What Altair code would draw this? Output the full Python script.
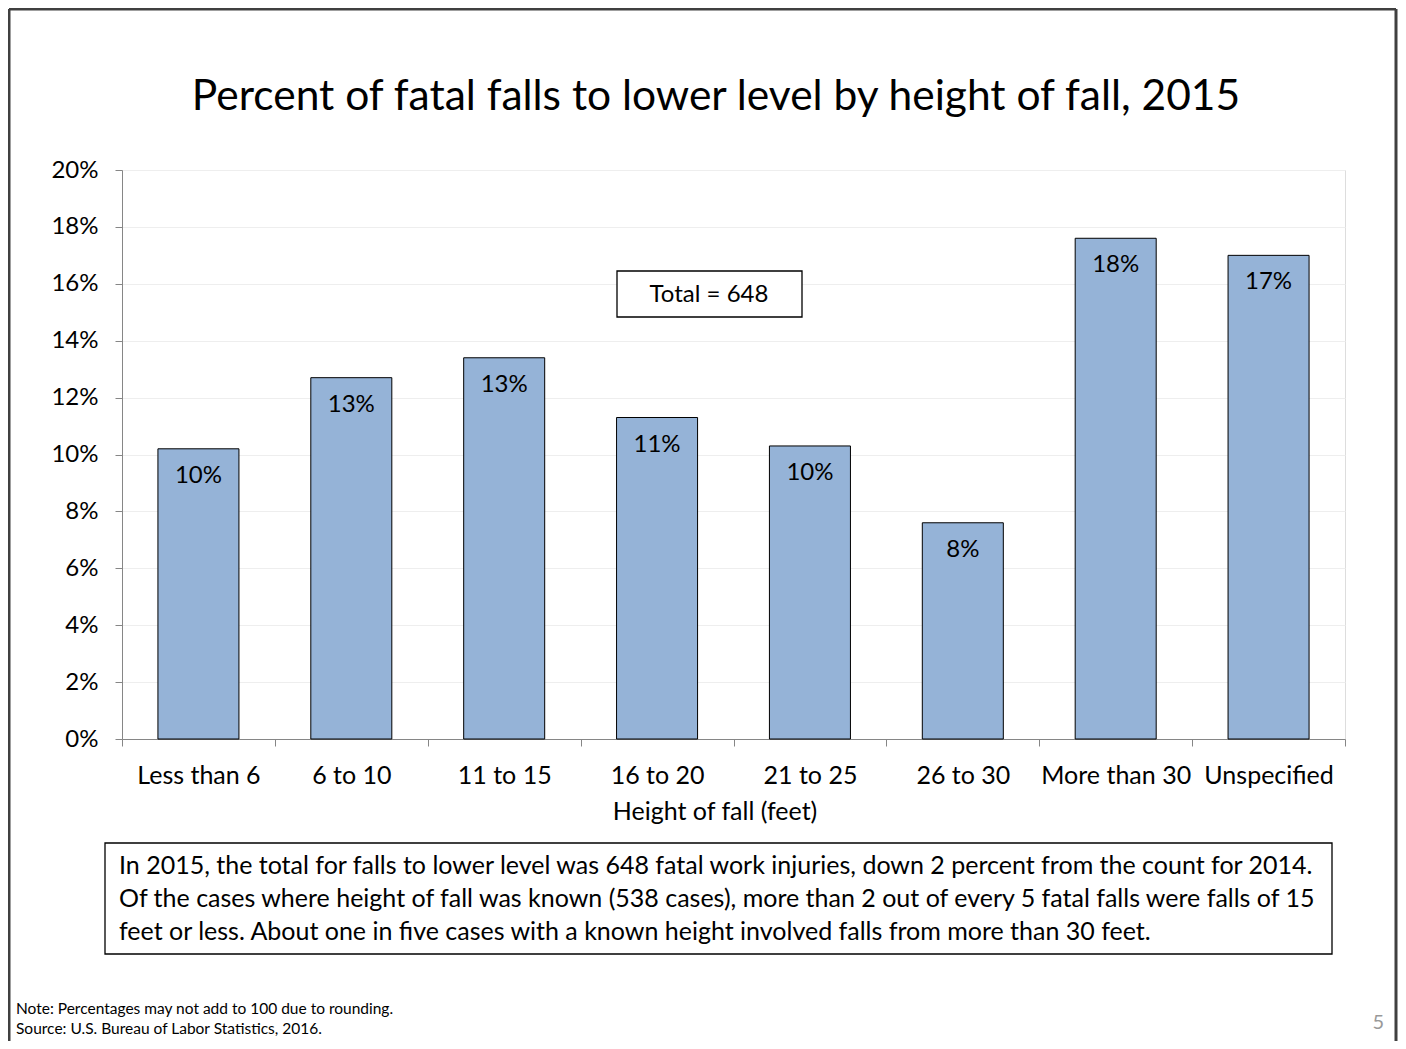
import altair as alt
import pandas as pd

categories = ["Less than 6", "6 to 10", "11 to 15", "16 to 20", "21 to 25",
              "26 to 30", "More than 30", "Unspecified"]
percents = [10.2, 12.7, 13.4, 11.3, 10.3, 7.6, 17.6, 17.0]

title_text = "Percent of fatal falls to lower level by height of fall, 2015"
x_title = "Height of fall (feet)"
total_text = "Total = 648"
caption_lines = [
    "In 2015, the total for falls to lower level was 648 fatal work injuries, down 2 percent from the count for 2014.",
    "Of the cases where height of fall was known (538 cases), more than 2 out of every 5 fatal falls were falls of 15",
    "feet or less. About one in five cases with a known height involved falls from more than 30 feet.",
]
note_lines = [
    "Note: Percentages may not add to 100 due to rounding.",
    "Source: U.S. Bureau of Labor Statistics, 2016.",
]
page_number = "5"

df = pd.DataFrame({"cat": categories, "pct": percents})
one = pd.DataFrame({"k": [0]})

FONT = "Lato"
GRAY = "#868686"

xenc = alt.X("cat:N", sort=categories, title=None,
             scale=alt.Scale(paddingInner=0, paddingOuter=0),
             axis=alt.Axis(labelAngle=0, tickBand="extent", tickSize=7,
                           tickColor=GRAY, domainColor=GRAY, labelFontSize=25,
                           labelPadding=17, labelColor="#000", labelFont=FONT,
                           grid=False))
yenc = alt.Y("pct:Q", title=None,
             scale=alt.Scale(domain=[0, 20], nice=False),
             axis=alt.Axis(values=list(range(0, 21, 2)), labelExpr="datum.value + '%'",
                           tickSize=7, tickColor=GRAY, domainColor=GRAY,
                           labelFontSize=24, labelPadding=17, labelColor="#000",
                           labelFont=FONT, grid=True, gridColor="#eeeeee"))

bars = alt.Chart(df).mark_bar(color="#95B3D7", stroke="#000", strokeWidth=1,
                              width=alt.RelativeBandSize(0.53)).encode(
    x=xenc, y=yenc)

labels = alt.Chart(df).transform_calculate(
    lab="format(round(datum.pct), 'd') + '%'"
).mark_text(dy=27, fontSize=24, font=FONT, color="#000", baseline="middle").encode(
    x=alt.X("cat:N", sort=categories), y="pct:Q", text="lab:N")

def txt(text, x, y, size, align="center", color="#000", **kw):
    return alt.Chart(one).mark_text(text=text, fontSize=size, font=FONT, color=color,
                                    align=align, baseline="alphabetic", **kw).encode(
        x=alt.value(x), y=alt.value(y))

def box(x1, x2, y1, y2):
    return alt.Chart(one).mark_rect(fill="white", stroke="#000", strokeWidth=1.3).encode(
        x=alt.value(x1), x2=alt.value(x2), y=alt.value(y1), y2=alt.value(y2))

def rule(x1, x2, y1, y2):
    return alt.Chart(one).mark_rule(color="#404040", strokeWidth=3).encode(
        x=alt.value(x1), x2=alt.value(x2), y=alt.value(y1), y2=alt.value(y2))

title = txt(title_text, 594, -60, 42.5)
axis_title = txt(x_title, 593, 650, 25)
total_box = box(495, 680, 101, 147)
total = txt(total_text, 587, 132, 24)
cap_box = box(-17, 1210, 673, 784)
caption = alt.Chart(one).mark_text(text="\n".join(caption_lines), lineBreak="\n",
                                   lineHeight=33, fontSize=25, font=FONT, color="#000",
                                   align="left", baseline="alphabetic").encode(
    x=alt.value(-3), y=alt.value(704))
note = alt.Chart(one).mark_text(text="\n".join(note_lines), lineBreak="\n",
                                lineHeight=20, fontSize=15.5, font=FONT, color="#000",
                                align="left", baseline="alphabetic").encode(
    x=alt.value(-106), y=alt.value(844))
pnum = txt(page_number, 1262, 859, 20, align="right", color="#999999")

border = [
    rule(-113, -113, -161, 871),
    rule(-113, 1274, -161, -161),
    rule(1274, 1274, -161, 871),
]

chart = alt.layer(bars, labels, title, axis_title, total_box, total, cap_box, caption,
                  note, pnum, *border).properties(
    width=1223, height=569,
    autosize=alt.AutoSizeParams(type="none"),
    padding={"left": 114, "top": 162, "right": 53, "bottom": 302},
).configure_view(stroke=GRAY, strokeWidth=1).configure(font=FONT, background="white")

chart.save("out.html", embed_options={"renderer": "svg", "actions": False})
